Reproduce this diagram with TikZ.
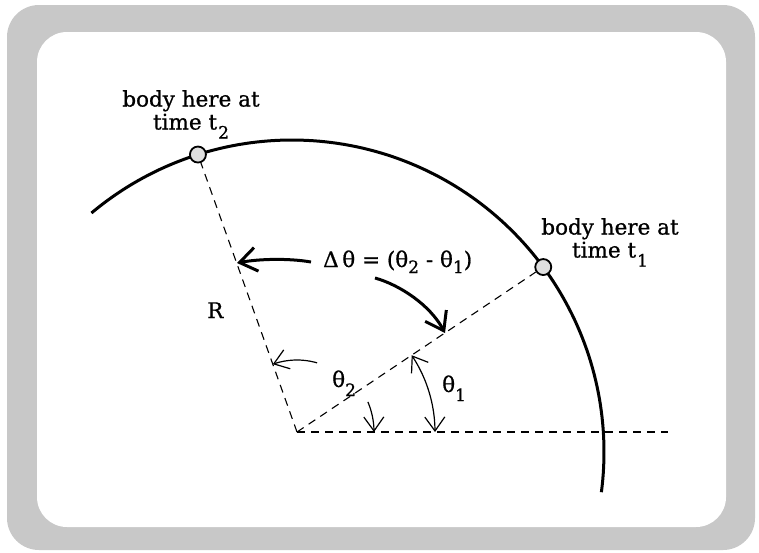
\documentclass[tikz,border=0pt]{standalone}
\usepackage{fontspec}
\setmainfont{DejaVu Serif}[RawFeature={embolden=0.8}]
\usetikzlibrary{arrows.meta,calc}
\newcommand{\lowsub}[2][-9pt]{\raisebox{#1}{\fontsize{17}{17}\selectfont #2}}
\definecolor{framegray}{RGB}{200,200,200}
\begin{document}
\begin{tikzpicture}[x=1pt,y=-1pt,
  txt/.style={font=\fontsize{21.5}{23}\selectfont, inner sep=0pt},
  dashln/.style={dash pattern=on 8pt off 6pt, line width=1.1pt},
  bodydot/.style={circle, draw, fill=gray!25, line width=1.8pt, minimum size=16pt, inner sep=0pt},
  thickarr/.style={line width=3pt, -{Straight Barb[length=17pt,width=24pt]}},
  thinarr/.style={line width=1.2pt, -{Straight Barb[length=14pt,width=20pt]}},
  thinarrboth/.style={line width=1.2pt, {Straight Barb[length=14pt,width=20pt]}-{Straight Barb[length=14pt,width=20pt]}}
]
\useasboundingbox (0,0) rectangle (759,552);
\fill[framegray, rounded corners=32pt] (7,5) rectangle (755,550);
\fill[white, rounded corners=30pt] (37,32) rectangle (726,527);

\coordinate (O) at (297,432);
\coordinate (H) at (668,432);
% orbit arc
\draw[line width=3pt] plot[domain=130:-7.4, samples=120] ({292+312*cos(\x)},{452-312*sin(\x)});
% bodies
\node[bodydot] (d1) at ({292+312*cos(36.36)},{452-312*sin(36.36)}) {};
\node[bodydot] (d2) at ({292+312*cos(107.55)},{452-312*sin(107.55)}) {};
% dashed radii
\draw[dashln] (O) -- (H);
\draw[dashln] (O) -- (d1);
\draw[dashln] (O) -- (d2);

% labels
\node[txt, align=center, anchor=north] (lab2) at (191,90) {body here at\\time t\kern1pt\lowsub{2}};
\node[txt, align=center, anchor=north] (lab1) at (610,218) {body here at\\time t\kern1pt\lowsub{1}};
\node[txt, anchor=base west] (dth) at (323,267) {Δ\,θ = (θ\lowsub[-6pt]{2} - θ\lowsub[-6pt]{1})};
\node[txt, anchor=base west] (th2) at (332,387) {θ\lowsub{2}};
\node[txt, anchor=base west] (th1) at (442,392) {θ\lowsub{1}};
\node[txt, anchor=base west] (Rl) at (207,318) {R};

% thick arrows from the delta-theta label
\coordinate (a1s) at (311,262);
\coordinate (a1e) at (237,263);
\draw[thickarr] (a1s) .. controls (288,258) and (258,259) .. (a1e);
\coordinate (a2s) at (375,278);
\coordinate (a2e) at (445,333);
\draw[thickarr] (a2s) .. controls (400,285) and (430,305) .. (a2e);

% theta_2 arc (two pieces)
\draw[thinarr] plot[domain=73.8:109.65, samples=30] ({297+72*cos(\x)},{432-72*sin(\x)});
\draw[thinarr] plot[domain=23:0, samples=20] ({297+77*cos(\x)},{432-77*sin(\x)});
% theta_1 arc
\draw[thinarrboth] plot[domain=0:33.8, samples=30] ({297+138*cos(\x)},{432-138*sin(\x)});
\end{tikzpicture}
\end{document}
